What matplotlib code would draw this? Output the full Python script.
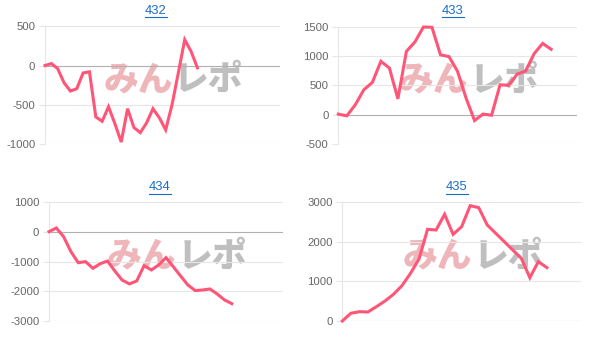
import matplotlib
matplotlib.use('Agg')
import matplotlib.pyplot as plt
from matplotlib.lines import Line2D

# machine numbers shown as chart titles
titles = ['432', '433', '434', '435']

# number of x slots on each chart's category axis
n_labels = [38, 29, 33, 29]

# difference-coin series
s432 = [0, 25, -40, -220, -325, -295, -95, -80, -655, -710, -525, -740, -975,
        -550, -790, -855, -730, -550, -665, -820, -500, -90, 330, 180, -30]
s433 = [10, -20, 170, 425, 550, 910, 795, 270, 1080, 1240, 1495, 1490, 1020,
        990, 740, 285, -100, 10, -10, 510, 500, 690, 745, 1040, 1215, 1115]
s434 = [10, 135, -160, -665, -1035, -1000, -1225, -1070, -980, -1315, -1620,
        -1750, -1650, -1135, -1280, -1110, -865, -1170, -1485, -1790, -1975,
        -1955, -1920, -2090, -2290, -2415]
s435 = [0, 195, 235, 228, 362, 505, 674, 893, 1205, 1567, 2317, 2300, 2696,
        2190, 2384, 2915, 2865, 2426, 2216, 2005, 1795, 1584, 1095, 1500, 1348]
series = [s432, s433, s434, s435]

# y axis ranges and tick steps
y_min = [-1000, -500, -3000, 0]
y_max = [500, 1500, 1000, 3000]
y_step = [500, 500, 1000, 1000]

W, H = 603, 348
# plot boxes in pixels: left, right, top, bottom
boxes = [(45, 280, 26.3, 144), (338.3, 576.7, 26.7, 144),
         (49, 283, 202.3, 321), (342.3, 581, 202.3, 321)]
title_pos = [(155.8, 10.5), (452.7, 10.5), (160, 187), (456.7, 187)]

LINE = '#ff5577'
GRID = '#e6e6e6'
TICK = '#666666'


def main():
    plt.rcParams['font.family'] = ['Liberation Sans', 'Noto Sans CJK JP', 'DejaVu Sans']
    fig = plt.figure(figsize=(W / 100, H / 100), dpi=100)
    fig.patch.set_facecolor('white')

    title_texts = []
    for i in range(4):
        l, r, t, b = boxes[i]
        ax = fig.add_axes([l / W, 1 - b / H, (r - l) / W, (b - t) / H])
        ax.set_facecolor('none')

        # watermark
        ax.text(0.545, 0.545, 'みん', transform=ax.transAxes, ha='right', va='center',
                fontsize=25, fontweight='black', color='#eba9ad', alpha=0.85,
                family=['Noto Sans CJK JP'], zorder=0)
        ax.text(0.55, 0.545, 'レポ', transform=ax.transAxes, ha='left', va='center',
                fontsize=25, fontweight='black', color='#b4b4b4', alpha=0.85,
                family=['Noto Sans CJK JP'], zorder=0)

        ys = series[i]
        ax.plot(range(len(ys)), ys, color=LINE, lw=2.2, solid_joinstyle='miter',
                clip_on=False, zorder=3)

        ticks = list(range(y_min[i], y_max[i] + 1, y_step[i]))
        ax.set_ylim(y_min[i], y_max[i])
        ax.set_xlim(0, n_labels[i] - 1)
        ax.set_yticks(ticks)
        ax.set_yticklabels([str(v) for v in ticks])
        ax.set_xticks([])
        for v in ticks:
            c = '#b0b0b0' if v == 0 else GRID
            ax.axhline(v, color=c, lw=0.8, zorder=1)

        for side in ['top', 'right', 'bottom']:
            ax.spines[side].set_visible(False)
        ax.spines['left'].set_color(GRID)
        ax.spines['left'].set_linewidth(0.8)
        ax.tick_params(axis='y', length=4, width=0.8, color=GRID, pad=3,
                       labelsize=8.2, labelcolor=TICK)

        tx, ty = title_pos[i]
        tt = fig.text(tx / W, 1 - ty / H, titles[i], ha='center', va='center',
                      fontsize=9.4, color='#1a6dc7')
        title_texts.append(tt)

    # underline the titles like links
    fig.canvas.draw()
    for tt in title_texts:
        bb = tt.get_window_extent()
        yline = (bb.y0 - 0.5) / H
        fig.add_artist(Line2D([bb.x0 / W, bb.x1 / W], [yline, yline],
                              color='#1a6dc7', lw=0.8, transform=fig.transFigure))

    fig.savefig('out.png', dpi=100)


if __name__ == '__main__':
    main()
